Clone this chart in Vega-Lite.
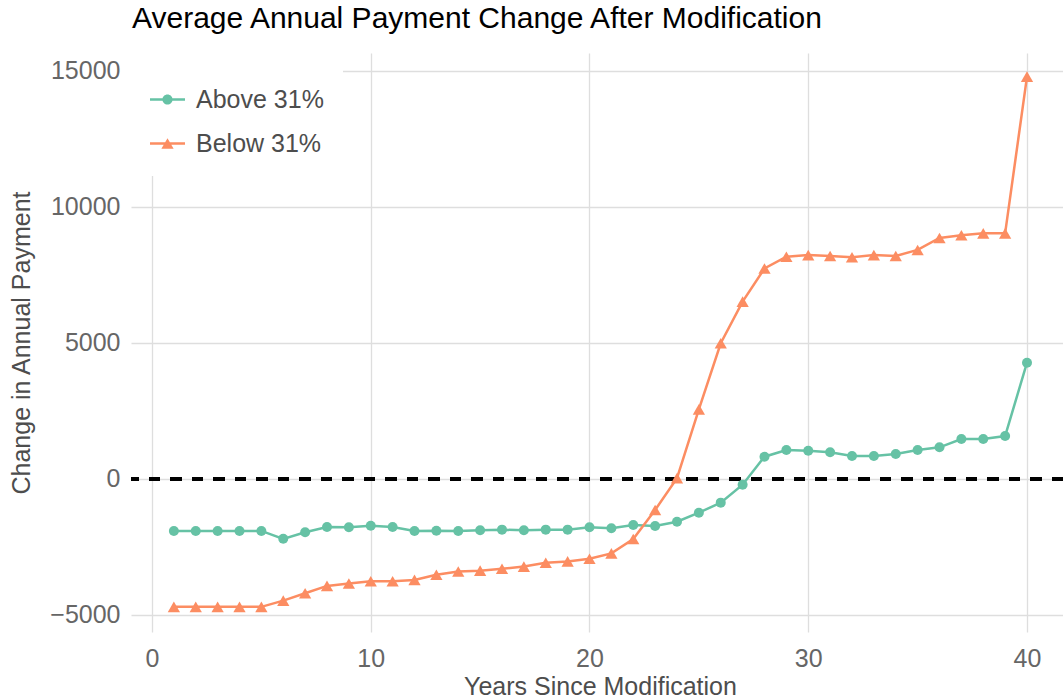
{
  "$schema": "https://vega.github.io/schema/vega-lite/v6.json",
  "width": 932,
  "height": 579,
  "autosize": {"type": "none"},
  "padding": {"left": 131, "top": 53, "right": 0, "bottom": 68},
  "background": "white",
  "title": {
    "text": "Average Annual Payment Change After Modification",
    "anchor": "start",
    "frame": "group",
    "orient": "top",
    "offset": 24,
    "dy": 29,
    "baseline": "alphabetic",
    "font": "Liberation Sans",
    "fontSize": 30,
    "fontWeight": "normal",
    "color": "#000000",
    "dx": 1
  },
  "config": {
    "view": {"stroke": null},
    "axis": {
      "domain": false,
      "ticks": false,
      "tickSize": 0,
      "grid": true,
      "gridColor": "#dedede",
      "gridWidth": 1.3,
      "labelFont": "Liberation Sans",
      "labelFontSize": 25,
      "labelColor": "#666666",
      "titleFont": "Liberation Sans",
      "titleFontSize": 25,
      "titleFontWeight": "normal",
      "titleColor": "#4d4d4d"
    }
  },
  "data": {
    "values": [
      {"year": 1, "group": "Above 31%", "value": -1910},
      {"year": 2, "group": "Above 31%", "value": -1910},
      {"year": 3, "group": "Above 31%", "value": -1910},
      {"year": 4, "group": "Above 31%", "value": -1910},
      {"year": 5, "group": "Above 31%", "value": -1910},
      {"year": 6, "group": "Above 31%", "value": -2200},
      {"year": 7, "group": "Above 31%", "value": -1960},
      {"year": 8, "group": "Above 31%", "value": -1765},
      {"year": 9, "group": "Above 31%", "value": -1775},
      {"year": 10, "group": "Above 31%", "value": -1716},
      {"year": 11, "group": "Above 31%", "value": -1765},
      {"year": 12, "group": "Above 31%", "value": -1910},
      {"year": 13, "group": "Above 31%", "value": -1900},
      {"year": 14, "group": "Above 31%", "value": -1910},
      {"year": 15, "group": "Above 31%", "value": -1887},
      {"year": 16, "group": "Above 31%", "value": -1862},
      {"year": 17, "group": "Above 31%", "value": -1887},
      {"year": 18, "group": "Above 31%", "value": -1862},
      {"year": 19, "group": "Above 31%", "value": -1862},
      {"year": 20, "group": "Above 31%", "value": -1775},
      {"year": 21, "group": "Above 31%", "value": -1810},
      {"year": 22, "group": "Above 31%", "value": -1690},
      {"year": 23, "group": "Above 31%", "value": -1730},
      {"year": 24, "group": "Above 31%", "value": -1570},
      {"year": 25, "group": "Above 31%", "value": -1240},
      {"year": 26, "group": "Above 31%", "value": -870},
      {"year": 27, "group": "Above 31%", "value": -210},
      {"year": 28, "group": "Above 31%", "value": 820},
      {"year": 29, "group": "Above 31%", "value": 1066},
      {"year": 30, "group": "Above 31%", "value": 1040},
      {"year": 31, "group": "Above 31%", "value": 980},
      {"year": 32, "group": "Above 31%", "value": 845},
      {"year": 33, "group": "Above 31%", "value": 845},
      {"year": 34, "group": "Above 31%", "value": 920},
      {"year": 35, "group": "Above 31%", "value": 1066},
      {"year": 36, "group": "Above 31%", "value": 1165},
      {"year": 37, "group": "Above 31%", "value": 1470},
      {"year": 38, "group": "Above 31%", "value": 1470},
      {"year": 39, "group": "Above 31%", "value": 1580},
      {"year": 40, "group": "Above 31%", "value": 4276},
      {"year": 1, "group": "Below 31%", "value": -4700},
      {"year": 2, "group": "Below 31%", "value": -4700},
      {"year": 3, "group": "Below 31%", "value": -4700},
      {"year": 4, "group": "Below 31%", "value": -4700},
      {"year": 5, "group": "Below 31%", "value": -4700},
      {"year": 6, "group": "Below 31%", "value": -4470},
      {"year": 7, "group": "Below 31%", "value": -4200},
      {"year": 8, "group": "Below 31%", "value": -3930},
      {"year": 9, "group": "Below 31%", "value": -3840},
      {"year": 10, "group": "Below 31%", "value": -3760},
      {"year": 11, "group": "Below 31%", "value": -3760},
      {"year": 12, "group": "Below 31%", "value": -3710},
      {"year": 13, "group": "Below 31%", "value": -3520},
      {"year": 14, "group": "Below 31%", "value": -3400},
      {"year": 15, "group": "Below 31%", "value": -3370},
      {"year": 16, "group": "Below 31%", "value": -3300},
      {"year": 17, "group": "Below 31%", "value": -3220},
      {"year": 18, "group": "Below 31%", "value": -3080},
      {"year": 19, "group": "Below 31%", "value": -3030},
      {"year": 20, "group": "Below 31%", "value": -2930},
      {"year": 21, "group": "Below 31%", "value": -2735},
      {"year": 22, "group": "Below 31%", "value": -2205},
      {"year": 23, "group": "Below 31%", "value": -1140},
      {"year": 24, "group": "Below 31%", "value": 30},
      {"year": 25, "group": "Below 31%", "value": 2560},
      {"year": 26, "group": "Below 31%", "value": 4990},
      {"year": 27, "group": "Below 31%", "value": 6520},
      {"year": 28, "group": "Below 31%", "value": 7740},
      {"year": 29, "group": "Below 31%", "value": 8170},
      {"year": 30, "group": "Below 31%", "value": 8230},
      {"year": 31, "group": "Below 31%", "value": 8200},
      {"year": 32, "group": "Below 31%", "value": 8150},
      {"year": 33, "group": "Below 31%", "value": 8230},
      {"year": 34, "group": "Below 31%", "value": 8200},
      {"year": 35, "group": "Below 31%", "value": 8420},
      {"year": 36, "group": "Below 31%", "value": 8860},
      {"year": 37, "group": "Below 31%", "value": 8960},
      {"year": 38, "group": "Below 31%", "value": 9030},
      {"year": 39, "group": "Below 31%", "value": 9030},
      {"year": 40, "group": "Below 31%", "value": 14790}
    ]
  },
  "encoding": {
    "x": {
      "field": "year",
      "type": "quantitative",
      "scale": {"domain": [-0.96, 41.646], "nice": false, "zero": false},
      "axis": {
        "values": [0, 10, 20, 30, 40],
        "format": "d",
        "title": "Years Since Modification",
        "labelBaseline": "alphabetic",
        "labelPadding": 34,
        "labelFlush": false,
        "titleX": 469,
        "titleY": 62,
        "titleAnchor": null,
        "titleAlign": "center",
        "titleBaseline": "alphabetic"
      }
    },
    "y": {
      "field": "value",
      "type": "quantitative",
      "scale": {"domain": [-5625, 15660], "nice": false, "zero": false},
      "axis": {
        "values": [-5000, 0, 5000, 10000, 15000],
        "format": "d",
        "title": "Change in Annual Payment",
        "labelPadding": 11,
        "titleX": -110,
        "titleY": 289.5,
        "titleAngle": -90,
        "titleAlign": "center",
        "titleBaseline": "middle"
      }
    },
    "color": {
      "field": "group",
      "type": "nominal",
      "scale": {"domain": ["Above 31%", "Below 31%"], "range": ["#66C2A5", "#FC8D62"]},
      "legend": {
        "orient": "top-left",
        "offset": 0,
        "padding": 19,
        "fillColor": "white",
        "strokeColor": null,
        "title": " ",
        "titleFontSize": 5,
        "titlePadding": 5,
        "symbolSize": 1225,
        "symbolType": "M-1,-0.07L1,-0.07L1,0.07L-1,0.07Z",
        "rowPadding": 13,
        "labelFont": "Liberation Sans",
        "labelFontSize": 25,
        "labelColor": "#4d4d4d",
        "labelOffset": 11,
        "encode": {
          "symbols": {
            "update": {
              "shape": {"signal": "datum.value === 'Above 31%' ? 'M-1,-0.07L1,-0.07L1,0.07L-1,0.07Z M0.29,0A0.29,0.29 0 1,1 -0.29,0A0.29,0.29 0 1,1 0.29,0Z' : 'M-1,-0.07L1,-0.07L1,0.07L-1,0.07Z M0,-0.3L0.35,0.3L-0.35,0.3Z'"},
              "fill": {"scale": "color", "field": "value"},
              "fillOpacity": {"value": 1},
              "opacity": {"value": 1},
              "strokeWidth": {"value": 0}
            }
          }
        }
      }
    }
  },
  "layer": [
    {
      "mark": {"type": "rule", "color": "#000000", "strokeWidth": 2.5, "strokeDash": [11, 10.5]},
      "encoding": {"y": {"datum": 0}, "x": null, "color": null}
    },
    {
      "mark": {"type": "line", "strokeWidth": 2.5},
      "encoding": {"detail": {"field": "group"}}
    },
    {
      "transform": [{"filter": "datum.group === 'Above 31%'"}],
      "mark": {"type": "point", "filled": true, "opacity": 1, "shape": "circle", "size": 100}
    },
    {
      "transform": [{"filter": "datum.group === 'Below 31%'"}],
      "mark": {"type": "point", "filled": true, "opacity": 1, "shape": "triangle-up", "size": 150}
    }
  ]
}
